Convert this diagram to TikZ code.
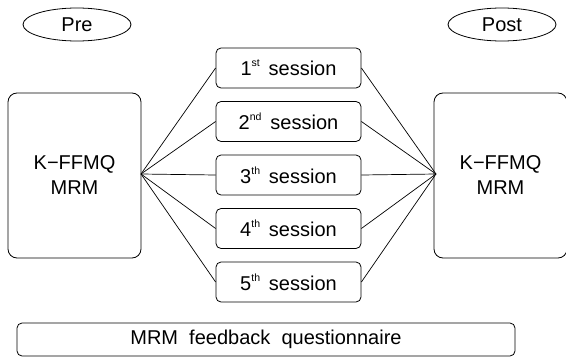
\documentclass[tikz,border=0pt]{standalone}
\usepackage{fontspec}
\setmainfont{Liberation Sans}
\usetikzlibrary{shapes.geometric}
\newcommand{\supx}[1]{\raisebox{9pt}{\fontsize{10.5}{10}\selectfont #1}}
\begin{document}
\begin{tikzpicture}[x=1pt,y=-1pt,
  every node/.style={font=\fontsize{20}{25}\selectfont},
  bigbox/.style={draw,line width=0.8pt,rounded corners=9pt,minimum width=133pt,minimum height=165pt,inner sep=0pt,align=center},
  sess/.style={draw,line width=0.8pt,rounded corners=5pt,minimum width=145pt,minimum height=40pt,inner sep=0pt},
  tag/.style={draw,line width=0.8pt,ellipse,minimum width=108pt,minimum height=33pt,inner sep=0pt},
  conn/.style={line width=0.7pt}]
\useasboundingbox (0,0) rectangle (566,359);
\node[tag] (pre) at (77,24.5) {Pre};
\node[tag] (post) at (502,24.5) {Post};
\node[bigbox] (L) at (74.5,175.5) {K−FFMQ\\MRM};
\node[bigbox] (R) at (500.5,175.5) {K−FFMQ\\MRM};
\coordinate (la) at (141,174);
\coordinate (ra) at (436,174);
\node[sess] (s1) at (288.5,68) {1\supx{st}\, session};
\node[sess] (s2) at (288.5,121.5) {2\supx{nd}\, session};
\node[sess] (s3) at (288.5,175) {3\supx{th}\, session};
\node[sess] (s4) at (288.5,228.5) {4\supx{th}\, session};
\node[sess] (s5) at (288.5,282) {5\supx{th}\, session};
\foreach \s in {s1,s2,s3,s4,s5}{
  \draw[conn] (la) -- (\s.west);
  \draw[conn] (\s.east) -- (ra);
}
\node[draw,line width=0.8pt,rounded corners=5pt,minimum width=498pt,minimum height=33pt,inner sep=0pt] (fb) at (266,339.5) {MRM\ \ feedback\ \ questionnaire};
\end{tikzpicture}
\end{document}
